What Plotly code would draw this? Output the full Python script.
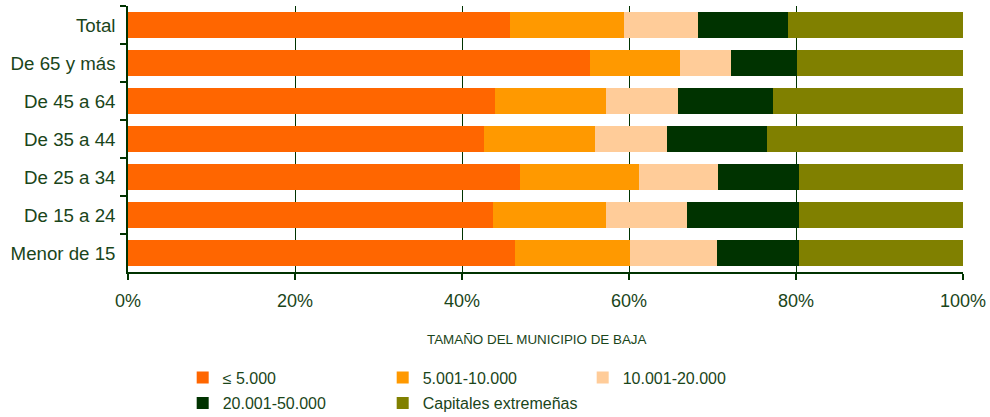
import plotly.graph_objects as go

categories = ["Total", "De 65 y más", "De 45 a 64", "De 35 a 44",
              "De 25 a 34", "De 15 a 24", "Menor de 15"]

series_names = ["≤ 5.000", "5.001-10.000", "10.001-20.000",
                "20.001-50.000", "Capitales extremeñas"]

hasta_5000 = [45.8, 55.3, 43.9, 42.6, 46.9, 43.7, 46.4]
de_5001_10000 = [13.6, 10.8, 13.3, 13.3, 14.3, 13.6, 13.7]
de_10001_20000 = [8.9, 6.1, 8.7, 8.7, 9.4, 9.7, 10.4]
de_20001_50000 = [10.7, 7.9, 11.4, 11.9, 9.7, 13.3, 9.8]
capitales = [21.0, 19.9, 22.7, 23.5, 19.7, 19.7, 19.7]

tick_values = [0, 20, 40, 60, 80, 100]
tick_labels = ["0%", "20%", "40%", "60%", "80%", "100%"]
axis_title = "TAMAÑO DEL MUNICIPIO DE BAJA"

colors = ["#FF6600", "#FF9900", "#FFCC99", "#003300", "#808000"]
series_values = [hasta_5000, de_5001_10000, de_10001_20000,
                 de_20001_50000, capitales]
legend_ids = ["legend", "legend", "legend", "legend2", "legend2"]

TEXT = "#1a451a"
LINE = "#003300"
FONT = "Liberation Sans, Arial, sans-serif"
H = 417

fig = go.Figure()
for name, vals, col, lg in zip(series_names, series_values, colors, legend_ids):
    fig.add_trace(go.Bar(
        y=categories, x=vals, name=name, orientation="h",
        marker=dict(color=col, line=dict(width=0)),
        legend=lg,
    ))

legend_style = dict(
    orientation="h", x=0.0655, xanchor="left", yref="container", yanchor="middle",
    entrywidth=155, entrywidthmode="pixels",
    font=dict(size=16, color=TEXT, family=FONT),
    bgcolor="rgba(0,0,0,0)", traceorder="normal",
)

fig.update_layout(
    width=990, height=H,
    barmode="stack", barnorm="percent", bargap=0.29,
    margin=dict(l=128, r=27, t=6, b=145, autoexpand=False),
    paper_bgcolor="white", plot_bgcolor="white",
    font=dict(family=FONT, color=TEXT),
    xaxis=dict(
        range=[0, 100], tickmode="array", tickvals=tick_values, ticktext=tick_labels,
        showgrid=True, gridcolor=LINE, gridwidth=1, zeroline=False,
        showline=True, linecolor=LINE, linewidth=1.5,
        ticks="outside", ticklen=6, tickcolor=LINE, tickwidth=1.5,
        tickfont=dict(size=18, color=TEXT, family=FONT),
        ticklabelstandoff=6,
    ),
    yaxis=dict(
        categoryorder="array", categoryarray=categories, autorange="reversed",
        showgrid=False, showline=True, linecolor=LINE, linewidth=1.5,
        ticks="outside", ticklen=6, tickcolor=LINE, tickwidth=1.5,
        tickson="boundaries",
        tickfont=dict(size=18.7, color=TEXT, family=FONT),
        ticklabelstandoff=7,
    ),
    legend=dict(legend_style, y=1 - 377.5 / H),
    legend2=dict(legend_style, y=1 - 403 / H),
    annotations=[dict(
        text=axis_title, xref="paper", yref="paper",
        x=0.4895, y=(272 - 339.5) / 266, xanchor="center", yanchor="middle",
        showarrow=False, font=dict(size=13.4, color=TEXT, family=FONT),
    )],
)

fig.write_html("out.html", config={"displayModeBar": False},
               post_script="document.body.style.margin='0';document.body.style.padding='0';")
